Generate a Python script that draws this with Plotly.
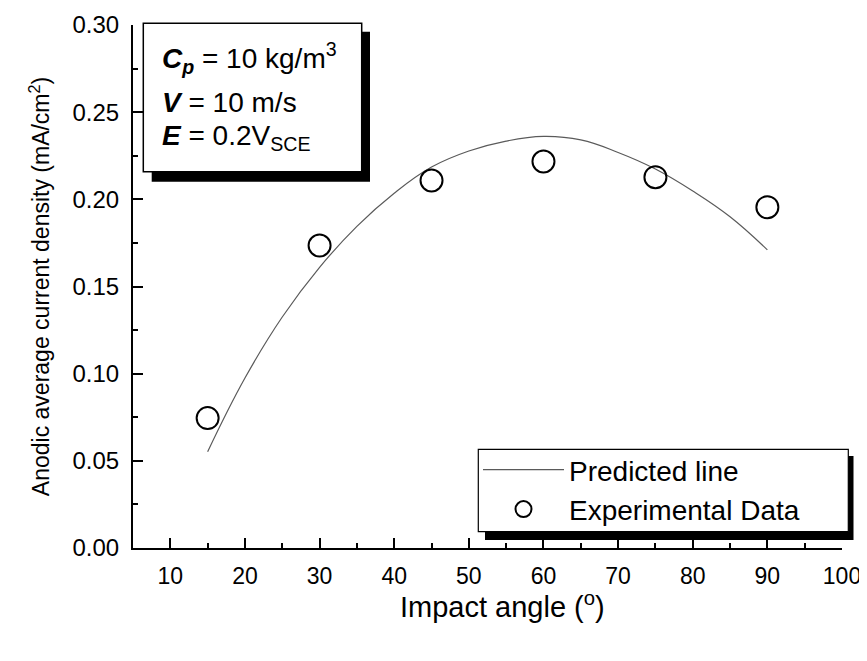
import plotly.graph_objects as go

# ---------------- data ----------------
angle_exp = [15, 30, 45, 60, 75, 90]
current_exp = [0.0745, 0.1735, 0.2108, 0.2217, 0.2127, 0.1955]

angle_pred = [15, 20, 25, 30, 35, 40, 45, 50, 55, 60, 65, 70, 75, 80, 85, 90]
current_pred = [0.0552, 0.0975, 0.1325, 0.1610, 0.1845, 0.2035, 0.2185, 0.2277,
                0.2334, 0.2361, 0.2341, 0.2269, 0.2174, 0.2048, 0.1900, 0.1710]

x_tick_vals = [10, 20, 30, 40, 50, 60, 70, 80, 90, 100]
y_tick_vals = [0.00, 0.05, 0.10, 0.15, 0.20, 0.25, 0.30]
y_tick_text = ["0.00", "0.05", "0.10", "0.15", "0.20", "0.25", "0.30"]

# ---------------- layout geometry (screen pixels) ----------------
WIN_W, WIN_H = 867, 661
OFF = 8                      # default page body margin
W, H = WIN_W - OFF, WIN_H - OFF
L, R, T, B = 133, 842, 25, 548   # plot area in screen pixels


def px(xp):
    return (xp - L) / (R - L)


def py(yp):
    return (B - yp) / (B - T)


SANS = "Liberation Sans, Arial, Helvetica, sans-serif"

fig = go.Figure()
fig.add_trace(go.Scatter(
    x=angle_pred, y=current_pred, mode="lines", name="Predicted line",
    line=dict(color="#5a5a5a", width=1.2, shape="spline", smoothing=1.2),
))
fig.add_trace(go.Scatter(
    x=angle_exp, y=current_exp, mode="markers", name="Experimental Data",
    marker=dict(symbol="circle-open", size=22, color="black",
                line=dict(color="black", width=2)),
))

shapes = []
# annotation box: shadow then white box
shapes.append(dict(type="rect", xref="paper", yref="paper",
                   x0=px(151.7), x1=px(370), y0=py(181.7), y1=py(31.7),
                   fillcolor="black", line=dict(width=0), layer="above"))
shapes.append(dict(type="rect", xref="paper", yref="paper",
                   x0=px(143.3), x1=px(361.7), y0=py(171.7), y1=py(23.3),
                   fillcolor="white", line=dict(color="black", width=1.5), layer="above"))
# legend box: shadow then white box
shapes.append(dict(type="rect", xref="paper", yref="paper",
                   x0=px(485), x1=px(853.5), y0=py(540), y1=py(456),
                   fillcolor="black", line=dict(width=0), layer="above"))
shapes.append(dict(type="rect", xref="paper", yref="paper",
                   x0=px(478.3), x1=px(848.3), y0=py(531.7), y1=py(449.3),
                   fillcolor="white", line=dict(color="black", width=1.2), layer="above"))

ann_font = dict(family=SANS, size=28, color="black")
annotations = [
    dict(xref="paper", yref="paper", x=px(159.5), y=py(58), xanchor="left", yanchor="middle",
         text="<b><i>C</i></b><sub><b><i>p</i></b></sub> = 10 kg/m<sup>3</sup>",
         showarrow=False, font=ann_font),
    dict(xref="paper", yref="paper", x=px(159.5), y=py(102), xanchor="left", yanchor="middle",
         text="<b><i>V</i></b> = 10 m/s", showarrow=False, font=ann_font),
    dict(xref="paper", yref="paper", x=px(159.5), y=py(137), xanchor="left", yanchor="middle",
         text="<b><i>E</i></b> = 0.2V<sub>SCE</sub>", showarrow=False, font=ann_font),
    dict(xref="paper", yref="paper", x=px(502), y=py(605), xanchor="center", yanchor="middle",
         text="Impact angle (<sup>o</sup>)", showarrow=False,
         font=dict(family=SANS, size=29, color="black")),
]

fig.update_layout(
    width=W, height=H,
    margin=dict(l=L - OFF, r=WIN_W - R, t=T - OFF, b=WIN_H - B, autoexpand=False),
    paper_bgcolor="white", plot_bgcolor="white",
    showlegend=True,
    legend=dict(x=px(478), xanchor="left", y=py(445), yanchor="top",
                bgcolor="rgba(0,0,0,0)", borderwidth=0,
                font=dict(family=SANS, size=28, color="black"),
                itemwidth=81, tracegroupgap=0),
    shapes=shapes,
    annotations=annotations,
)

fig.update_xaxes(
    range=[5, 100], tickvals=x_tick_vals, ticktext=[str(v) for v in x_tick_vals],
    showline=True, linecolor="black", linewidth=2, mirror=False,
    showgrid=False, zeroline=False, automargin=False,
    ticks="inside", ticklen=10, tickwidth=1.5, tickcolor="black",
    minor=dict(ticks="inside", ticklen=5, tickwidth=1.5, tickcolor="black", dtick=5, tick0=5),
    tickfont=dict(family=SANS, size=23, color="black"),
    ticklabelstandoff=6,
)
fig.update_yaxes(
    range=[0, 0.30], tickvals=y_tick_vals, ticktext=y_tick_text,
    showline=True, linecolor="black", linewidth=2, mirror=False,
    showgrid=False, zeroline=False, automargin=False,
    ticks="inside", ticklen=10, tickwidth=1.5, tickcolor="black",
    minor=dict(ticks="inside", ticklen=5, tickwidth=1.5, tickcolor="black", dtick=0.025, tick0=0),
    tickfont=dict(family=SANS, size=24, color="black"),
    ticklabelstandoff=7,
    title=dict(text="Anodic average current density (mA/cm<sup>2</sup>)",
               font=dict(family=SANS, size=23, color="black"), standoff=16),
)

fig.write_html("out.html")
